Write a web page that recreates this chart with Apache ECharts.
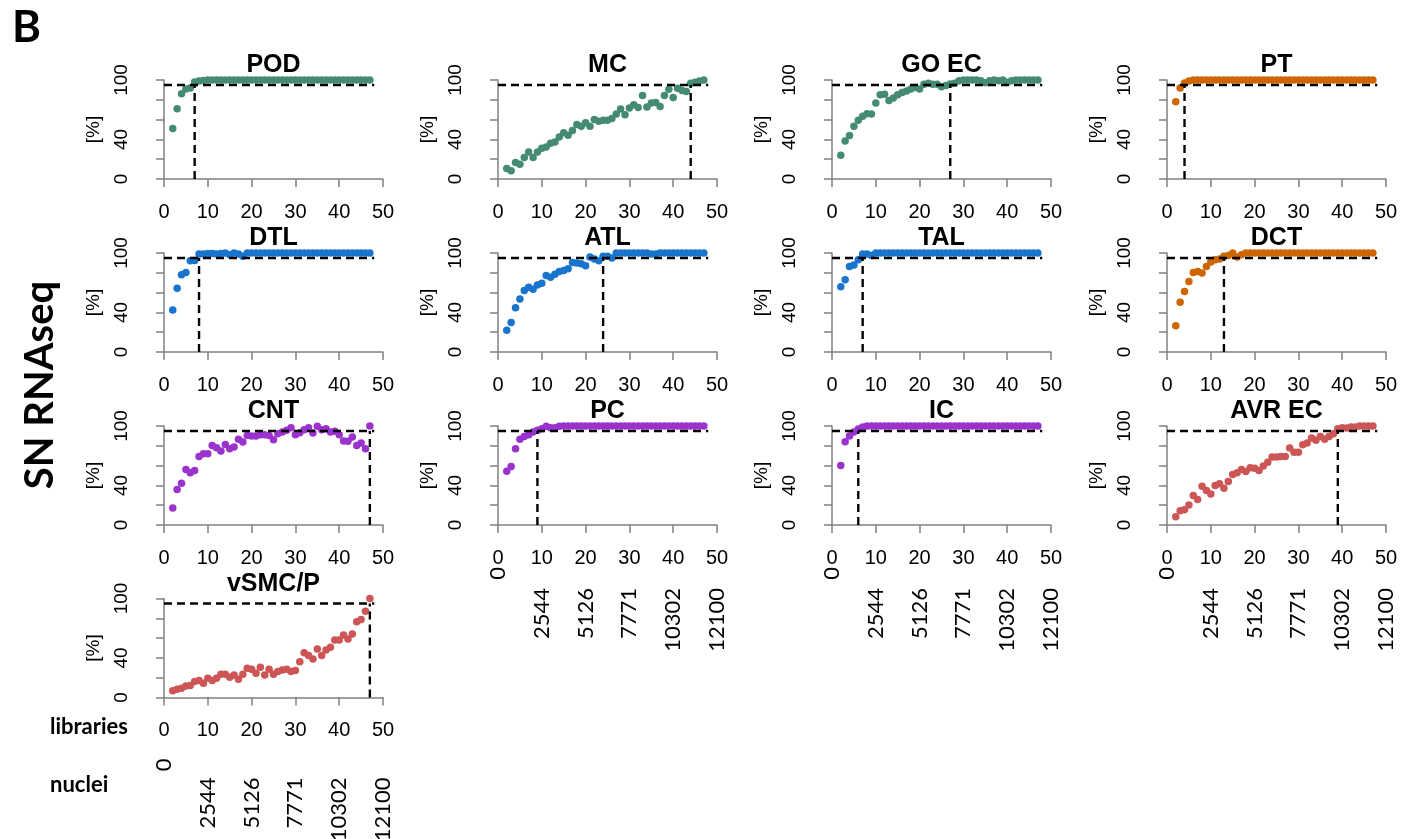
<!DOCTYPE html>
<html>
<head>
<meta charset="utf-8">
<script src="https://cdn.jsdelivr.net/npm/echarts@6/dist/echarts.min.js"></script>
<style>
  html, body { margin: 0; padding: 0; background: #fff; }
  #chart { width: 1401px; height: 839px; }
</style>
</head>
<body>
<div id="chart"></div>
<script>
// number of libraries merged (x of every panel)
const libraries = [2, 3, 4, 5, 6, 7, 8, 9, 10, 11, 12, 13, 14, 15, 16, 17, 18, 19, 20, 21, 22, 23, 24,
  25, 26, 27, 28, 29, 30, 31, 32, 33, 34, 35, 36, 37, 38, 39, 40, 41, 42, 43, 44, 45, 46, 47];

// % of cell type detected, one list per panel (x = 2..47)
const pod = [51, 71, 86, 91, 92, 98, 99, 99.5, 100, 100, 100, 100, 100, 100, 100, 100, 100, 100, 100, 100,
  100, 100, 100, 100, 100, 100, 100, 100, 100, 100, 100, 100, 100, 100, 100, 100, 100, 100, 100, 100,
  100, 100, 100, 100, 100, 100];
const mc = [10.7, 8.3, 16.7, 15, 21.7, 27.3, 21.7, 27.3, 31, 32.3, 36, 37.3, 42.3, 46.7, 44.3, 49, 55, 53.3,
  56.7, 53.3, 60, 58.3, 59.3, 59.3, 61, 65.7, 70.7, 65, 71.7, 75, 72.3, 84.3, 72.7, 76.7, 77.3, 73.3,
  84.3, 90.7, 82.3, 91.7, 89.3, 88.3, 96.7, 97.7, 99, 100];
const goEc = [24, 38.3, 44, 53.3, 59.3, 63.3, 66, 65.7, 76.7, 85, 85.7, 79.3, 81.7, 85, 87.3, 89, 91, 92.3,
  91, 95.7, 96.7, 95.7, 95.7, 93.3, 94.5, 96, 96.7, 99.3, 100, 100, 100, 100, 99.3, 97.3, 99.3, 100,
  99.3, 100, 97.7, 99.3, 100, 100, 100, 100, 100, 100];
const pt = [78, 92, 97, 99, 100, 100, 100, 100, 100, 100, 100, 100, 100, 100, 100, 100, 100, 100, 100, 100,
  100, 100, 100, 100, 100, 100, 100, 100, 100, 100, 100, 100, 100, 100, 100, 100, 100, 100, 100, 100,
  100, 100, 100, 100, 100, 100];
const dtl = [42.4, 64.4, 78, 80.3, 92.2, 92.5, 99, 99, 99.5, 99.5, 99, 99.5, 100, 98.3, 100, 99, 96.6, 100,
  100, 100, 100, 100, 100, 100, 100, 100, 100, 100, 100, 100, 100, 100, 100, 100, 100, 100, 100, 100,
  100, 100, 100, 100, 100, 100, 100, 100];
const atl = [22, 29.8, 44.7, 53.6, 62, 65.4, 63.4, 67.8, 69.5, 77.3, 75.6, 78.6, 81.4, 82.4, 84, 90.5, 89.8,
  89.2, 87.1, 95.9, 93.9, 92.2, 96.6, 96.6, 95, 100, 100, 100, 100, 100, 100, 100, 100, 99, 99, 100,
  100, 100, 100, 100, 100, 100, 100, 100, 100, 100];
const tal = [66, 72.9, 86.4, 88, 93.2, 99, 99, 97.6, 100, 100, 100, 100, 100, 100, 100, 100, 100, 100, 100,
  100, 100, 100, 100, 100, 100, 100, 100, 100, 100, 100, 100, 100, 100, 100, 100, 100, 100, 100, 100,
  100, 100, 100, 100, 100, 100, 100];
const dct = [26.4, 50.2, 61, 71.2, 80.3, 81.4, 79.7, 86.4, 90.8, 93.2, 93.9, 96.6, 97.6, 100, 95.9, 98.3,
  100, 100, 100, 100, 100, 100, 100, 100, 100, 100, 100, 100, 100, 100, 100, 100, 100, 100, 100, 100,
  100, 100, 100, 100, 100, 100, 100, 100, 100, 100];
const cnt = [17.2, 35.8, 42.2, 56.1, 52.7, 55.1, 69.3, 72, 72, 80.4, 78, 74.7, 81.4, 77, 78.7, 86.5, 83.8,
  90.5, 89.9, 89.9, 91.2, 91.2, 90.5, 86.1, 92.2, 93.9, 95.6, 98.3, 91.2, 93.2, 96.3, 98.3, 92.9, 99.7,
  96.3, 97.3, 93.9, 94.6, 91.2, 84.8, 84.5, 88.9, 80.4, 82.8, 77, 100];
const pc = [54.4, 59.1, 77, 86.5, 89.5, 91.2, 93.9, 95.6, 97.3, 99.7, 98.3, 98.3, 99.7, 100, 100, 100, 100,
  100, 100, 100, 100, 100, 100, 100, 100, 100, 100, 100, 100, 100, 100, 100, 100, 100, 100, 100, 100,
  100, 100, 100, 100, 100, 100, 100, 100, 100];
const ic = [60, 84, 90, 94, 97, 99, 100, 100, 100, 100, 100, 100, 100, 100, 100, 100, 100, 100, 100, 100,
  100, 100, 100, 100, 100, 100, 100, 100, 100, 100, 100, 100, 100, 100, 100, 100, 100, 100, 100, 100,
  100, 100, 100, 100, 100, 100];
const avrEc = [8.4, 14.5, 15.5, 20.3, 29.7, 25.7, 39.2, 34.8, 31.4, 39.9, 41.6, 37.2, 43.9, 51, 52.7, 56.1,
  54.1, 57.8, 57.4, 55.1, 59.5, 63.5, 68.6, 68.6, 69.3, 69.3, 77.7, 73.6, 73.6, 81.1, 82.8, 87.8, 85.5,
  89.5, 86.5, 89.5, 92.2, 97.3, 98.3, 98, 99, 99, 100, 100, 100, 100];
const vsmcP = [6.7, 8.4, 9.4, 11.7, 12.1, 16.1, 17.1, 14.4, 19.5, 17.1, 19.5, 23.5, 23.5, 20.5, 22.8, 18.5,
  23.5, 29.5, 28.5, 24.5, 30.5, 22.8, 28.5, 23.5, 26.2, 27.9, 28.5, 26.2, 27.2, 36.2, 45.3, 42.3, 38.9,
  49, 42.3, 48, 50.7, 58.1, 58.1, 63.1, 59.1, 64.1, 76.5, 78.9, 87.2, 100];

const panelNames = ['POD', 'MC', 'GO EC', 'PT', 'DTL', 'ATL', 'TAL', 'DCT', 'CNT', 'PC', 'IC', 'AVR EC', 'vSMC/P'];
const panelValues = [pod, mc, goEc, pt, dtl, atl, tal, dct, cnt, pc, ic, avrEc, vsmcP];
const panelColors = ['#458B74', '#458B74', '#458B74', '#CD6600', '#1874CD', '#1874CD', '#1874CD', '#CD6600',
  '#9A32CD', '#9A32CD', '#9A32CD', '#CD5555', '#CD5555'];
// libraries needed to reach the cutoff (vertical dashed line)
const cutoffLibraries = [7, 44, 27, 4, 8, 24, 7, 13, 47, 9, 6, 39, 47];
const cutoffPct = 95;
const cutoffLineEnd = 48;
// nuclei counts shown under the library ticks 0..50
const nucleiTicks = ['0', '2544', '5126', '7771', '10302', '12100'];
const nucleiPanels = [9, 10, 11, 12];

const colLeft = [164, 498, 832, 1167];
const rowTop = [80, 253, 426, 598.5];
const plotW = 219, plotH = 99;
const axisGray = '#808080';
const arial = 'Liberation Sans, Arial, sans-serif';

var dom = document.getElementById('chart');
var myChart = echarts.init(dom);

var grid = [], xAxis = [], yAxis = [], series = [], title = [];

panelNames.forEach((name, i) => {
  const left = colLeft[i % 4], top = rowTop[Math.floor(i / 4)];
  grid.push({ left: left, top: top, width: plotW, height: plotH, containLabel: false, outerBoundsMode: 'none' });
  title.push({
    text: name, left: left + plotW / 2, top: top - 27, textAlign: 'center', padding: 0,
    textStyle: { fontFamily: arial, fontSize: 25, fontWeight: 'bold', color: '#000' }
  });
  xAxis.push({
    gridIndex: i, type: 'value', position: 'bottom', min: 0, max: 50, interval: 10, offset: 4,
    axisLine: { show: true, lineStyle: { color: axisGray, width: 1.5 } },
    axisTick: { show: true, length: 8, lineStyle: { color: axisGray, width: 1.5 } },
    axisLabel: { fontFamily: arial, fontSize: 20, color: '#000', margin: 19 },
    splitLine: { show: false }
  });
  yAxis.push({
    gridIndex: i, type: 'value', min: 0, max: 100, interval: 20, offset: 9,
    name: '[%]', nameLocation: 'middle', nameGap: 52, nameRotate: 90,
    nameTextStyle: { fontFamily: arial, fontSize: 19, color: '#000' },
    axisLine: { show: true, lineStyle: { color: axisGray, width: 1.5 } },
    axisTick: { show: true, length: 8, lineStyle: { color: axisGray, width: 1.5 } },
    axisLabel: {
      fontFamily: arial, fontSize: 19, color: '#000', margin: 24, rotate: 90,
      formatter: v => (v === 0 || v === 40 || v === 100) ? String(v) : ''
    },
    splitLine: { show: false }
  });
  series.push({
    type: 'scatter', xAxisIndex: i, yAxisIndex: i, clip: false,
    symbolSize: 7.5, itemStyle: { color: panelColors[i], opacity: 1 },
    data: libraries.map((x, k) => [x, panelValues[i][k]]),
    z: 2
  });
  const dashed = { color: '#000', width: 2.4, type: [8, 5] };
  series.push({
    type: 'line', xAxisIndex: i, yAxisIndex: i, symbol: 'none', silent: true,
    lineStyle: dashed, data: [[0, cutoffPct], [cutoffLineEnd, cutoffPct]], z: 3
  });
  series.push({
    type: 'line', xAxisIndex: i, yAxisIndex: i, symbol: 'none', silent: true,
    lineStyle: dashed, data: [[cutoffLibraries[i], 0], [cutoffLibraries[i], cutoffPct]], z: 3
  });
});

// second row of labels: nuclei
nucleiPanels.forEach(i => {
  const lastRow = Math.floor(i / 4) === 3;
  xAxis.push({
    gridIndex: i, type: 'value', position: 'bottom', min: 0, max: 50, interval: 10,
    offset: lastRow ? 57 : 38,
    axisLine: { show: false }, axisTick: { show: false }, splitLine: { show: false },
    axisLabel: {
      rotate: 90, margin: 4, color: '#000',
      formatter: v => {
        const t = nucleiTicks[v / 10];
        return t === '0' ? '{z|' + t + '}' : (lastRow ? '{m|' + t + '}' : '{n|' + t + '}');
      },
      rich: {
        z: { fontFamily: 'Lato', fontSize: 22, color: '#000' },
        n: { fontFamily: 'Lato', fontSize: 22, color: '#000', padding: [0, 21, 0, 0] },
        m: { fontFamily: 'Lato', fontSize: 22, color: '#000', padding: [0, 19, 0, 0] }
      }
    }
  });
});

var option = {
  backgroundColor: '#fff',
  animation: false,
  title: title,
  grid: grid,
  xAxis: xAxis,
  yAxis: yAxis,
  series: series,
  graphic: [
    { type: 'text', left: 12, top: 6, style: { text: 'B', font: 'bold 44px Lato', fill: '#000' } },
    {
      type: 'text', x: 40, y: 385, rotation: Math.PI / 2,
      style: { text: 'SN RNAseq', font: 'bold 40px Lato', fill: '#000', align: 'center', verticalAlign: 'middle' }
    },
    { type: 'text', x: 50, y: 727, style: { text: 'libraries', font: 'bold 22px Lato', fill: '#000', verticalAlign: 'middle' } },
    { type: 'text', x: 50, y: 785, style: { text: 'nuclei', font: 'bold 22px Lato', fill: '#000', verticalAlign: 'middle' } }
  ]
};

if (option && typeof option === 'object') {
  myChart.setOption(option, true);
}
</script>
</body>
</html>
